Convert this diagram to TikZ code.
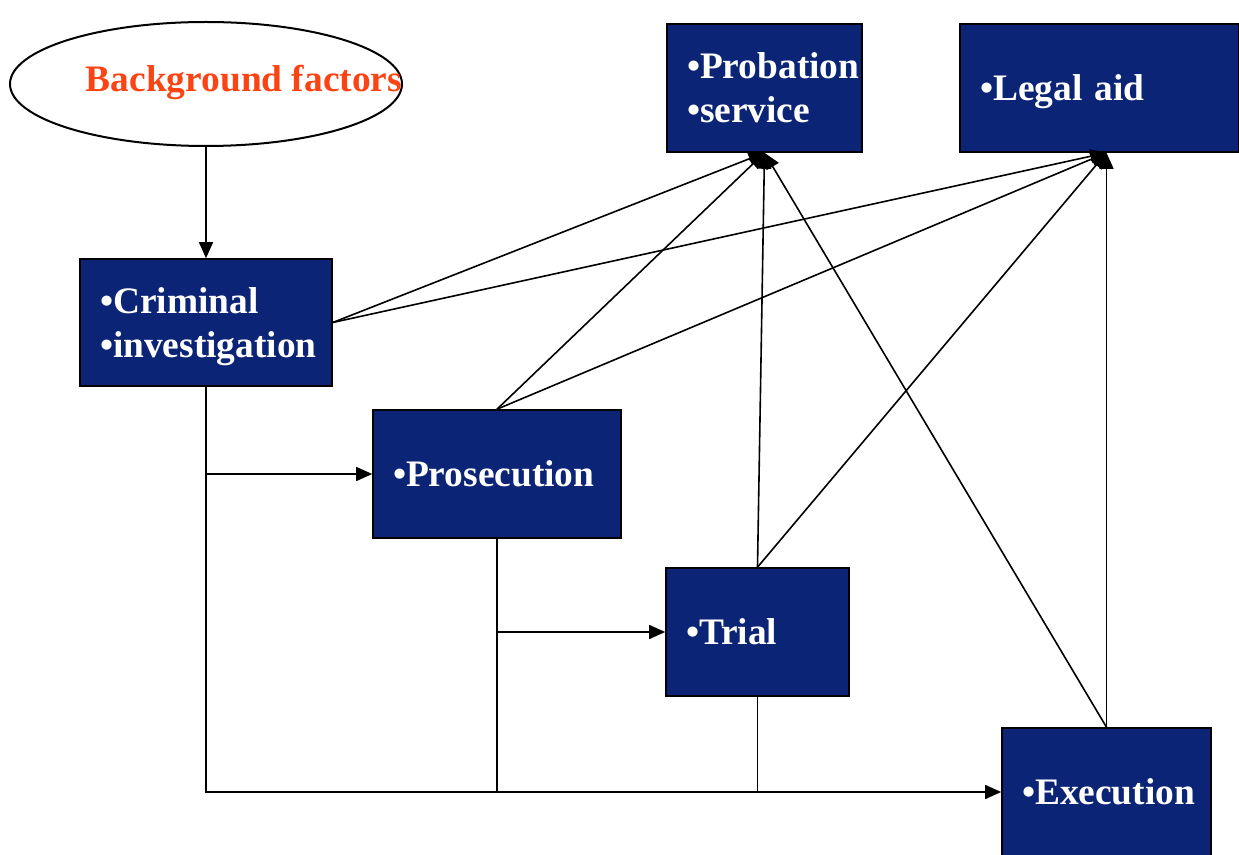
\documentclass[tikz,border=0pt]{standalone}
\usepackage{fontspec}
\setmainfont{Liberation Serif}
\usetikzlibrary{arrows.meta,positioning,shapes.geometric}
\definecolor{cBox} {RGB}{11,36,118}
\definecolor{cBack}{RGB}{250,68,20}
\tikzset{
  >={Triangle[length=8pt,width=7pt]},
  blk/.style={draw=black,line width=0.8pt,fill=cBox,text=white,align=left,
              inner xsep=10pt,inner ysep=0pt,minimum height=64pt,
              font=\bfseries\fontsize{18.7}{22}\selectfont},
  oval/.style={draw,ellipse,line width=1pt,minimum width=196pt,
               minimum height=62pt,inner sep=0pt},
  lab/.style={text=cBack,inner sep=0pt,font=\bfseries\fontsize{18.7}{22}\selectfont},
  link/.style={line width=0.8pt},
}
\hyphenpenalty=10000
\begin{document}
\begin{tikzpicture}[x=0.5pt,y=-0.5pt]
  \useasboundingbox (0,0) rectangle (1239,855);
  \node[oval] (bg) at (206,84) {};
  \node[lab]  (bgt) at (244,82) {Background factors};

  \node[blk,text width=77.5pt]  (prob)  at (764.5,88)  {\textbullet Probation\\\textbullet service};
  \node[blk,text width=119.5pt,text depth=0pt]
                                (legal) at (1099.5,88) {\textbullet Legal aid};
  \node[blk,text width=106pt,minimum height=63.5pt,text depth=22pt]
                                (crim)  at (206,322.5) {\textbullet Criminal\\\textbullet investigation};
  \node[blk,text width=104pt]   (pros)  at (497,474)   {\textbullet Prosecution};
  \node[blk,text width=71.5pt]  (trial) at (757.5,632) {\textbullet Trial};
  \node[blk,text width=84.5pt]  (exec)  at (1106.5,792){\textbullet Execution};

  % main flow
  \draw[link,->] (bg.south) -- (crim.north);
  \draw[link,->] (crim.south) |- (exec.west);
  \draw[link,->] (crim.south |- pros.west) -- (pros.west);
  \draw[link] (pros.south) -- (pros.south |- exec.west);
  \draw[link,->] (pros.south |- trial.west) -- (trial.west);
  \draw[link] (trial.south) -- (trial.south |- exec.west);

  % every stage feeds probation and legal aid
  \foreach \s in {crim.east,pros.north,trial.north,exec.north}{
    \draw[link,->] (\s) -- (prob.south);
    \draw[link,->] (\s) -- (exec.north |- legal.south);
  }
\end{tikzpicture}
\end{document}
